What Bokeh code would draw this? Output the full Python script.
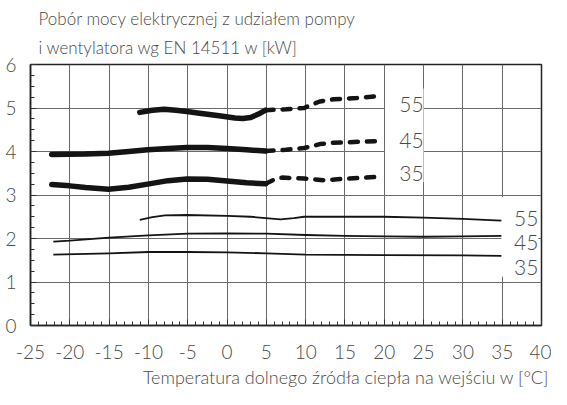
from bokeh.plotting import figure
from bokeh.models import Title, FixedTicker, Range1d
from bokeh.embed import file_html
from bokeh.resources import INLINE
from bokeh.core.properties import value

FONT = "Lato Light"
TXT = "#4a4a4a"
INK = "#141414"

# ---- texts ----
title_lines = ["Pobór mocy elektrycznej z udziałem pompy",
               "i wentylatora wg EN 14511 w [kW]"]
x_title = "Temperatura dolnego źródła ciepła na wejściu w [°C]"
x_ticks = [-25, -20, -15, -10, -5, 0, 5, 10, 15, 20, 25, 30, 35, 40]
y_ticks = [0, 1, 2, 3, 4, 5, 6]
series_labels = ["55", "45", "35"]

# ---- thick curves (upper group), solid part ----
thick55_x = [-11.1, -9.5, -8.0, -6.5, -5.1, -3.5, -1.0, 1.0, 2.0, 3.0, 4.0, 4.9]
thick55_y = [4.90, 4.95, 4.97, 4.95, 4.92, 4.88, 4.82, 4.77, 4.76, 4.78, 4.86, 4.95]
thick45_x = [-22.3, -18.0, -15.1, -12.5, -10.1, -7.5, -5.1, -2.5, 0.0, 2.5, 4.9]
thick45_y = [3.93, 3.94, 3.96, 4.00, 4.04, 4.07, 4.09, 4.09, 4.07, 4.04, 4.01]
thick35_x = [-22.3, -20.0, -18.0, -15.1, -12.5, -10.1, -7.5, -5.1, -2.5, 0.0, 2.5, 4.9]
thick35_y = [3.24, 3.21, 3.17, 3.13, 3.18, 3.25, 3.33, 3.37, 3.36, 3.32, 3.28, 3.26]

# ---- thick curves, dashed continuation ----
dash55_x = [4.9, 7.5, 9.8, 10.8, 11.8, 13.6, 16.5, 19.5]
dash55_y = [4.95, 4.97, 5.00, 5.08, 5.15, 5.20, 5.23, 5.28]
dash45_x = [4.9, 7.5, 9.8, 10.8, 11.8, 13.5, 14.8, 19.5]
dash45_y = [4.01, 4.04, 4.08, 4.12, 4.17, 4.20, 4.21, 4.24]
dash35_x = [4.9, 5.5, 6.2, 7.0, 9.8, 12.3, 14.8, 19.5]
dash35_y = [3.26, 3.31, 3.37, 3.40, 3.38, 3.34, 3.37, 3.42]

# ---- thin curves (lower group) ----
thin55_x = [-11.1, -9.5, -7.9, -5.1, 0.0, 3.0, 4.9, 6.8, 8.5, 9.8, 19.9, 25.0, 30.0, 34.9]
thin55_y = [2.43, 2.49, 2.53, 2.54, 2.52, 2.50, 2.47, 2.44, 2.47, 2.50, 2.50, 2.48, 2.45, 2.41]
thin45_x = [-22.1, -20.0, -15.0, -10.0, -5.0, 0.0, 5.0, 10.0, 15.0, 20.0, 25.0, 30.0, 34.9]
thin45_y = [1.93, 1.95, 2.02, 2.07, 2.11, 2.12, 2.11, 2.08, 2.06, 2.05, 2.04, 2.05, 2.06]
thin35_x = [-22.1, -15.0, -10.0, -5.0, 0.0, 5.0, 8.0, 10.0, 20.0, 30.0, 34.9]
thin35_y = [1.63, 1.66, 1.69, 1.69, 1.68, 1.66, 1.64, 1.63, 1.62, 1.61, 1.60]

p = figure(width=551, height=389, output_backend="svg", toolbar_location=None,
           x_range=Range1d(-25, 40), y_range=Range1d(0, 6),
           min_border_left=30, min_border_right=10,
           min_border_top=58, min_border_bottom=10)
p.background_fill_color = "white"
p.border_fill_color = "white"
p.outline_line_color = "#222222"
p.outline_line_width = 1.5

# grid
p.xgrid.ticker = FixedTicker(ticks=x_ticks)
p.ygrid.ticker = FixedTicker(ticks=y_ticks)
for g in (p.xgrid, p.ygrid):
    g.grid_line_color = "#6a6a6a"
    g.grid_line_width = 1
    g.grid_line_alpha = 1

# axes
p.xaxis.ticker = FixedTicker(ticks=x_ticks, minor_ticks=list(range(-25, 41)))
p.yaxis.ticker = FixedTicker(ticks=y_ticks, minor_ticks=[i * 0.25 for i in range(25)])
p.xaxis.major_label_overrides = {t: str(t) for t in x_ticks}
for ax in (p.xaxis, p.yaxis):
    ax.axis_line_color = "#222222"
    ax.axis_line_width = 1.5
    ax.major_tick_in = 6
    ax.major_tick_out = 0
    ax.minor_tick_in = 4
    ax.minor_tick_out = 0
    ax.major_tick_line_color = "#333333"
    ax.minor_tick_line_color = "#333333"
    ax.major_label_text_font = FONT
    ax.major_label_text_font_size = "19px"
    ax.major_label_text_color = TXT
p.xaxis.major_label_standoff = 19
p.yaxis.major_label_standoff = 14

# white boxes behind curve labels
p.quad(left=[20.1, 34.9], right=[25.0, 39.6], bottom=[3.3, 1.12], top=[5.45, 2.95],
       fill_color="white", line_color=None)

# thick solid
for xs, ys in ((thick55_x, thick55_y), (thick45_x, thick45_y), (thick35_x, thick35_y)):
    p.line(xs, ys, line_width=5.5, line_color=INK, line_cap="round", line_join="round")
# thick dashed
for xs, ys in ((dash55_x, dash55_y), (dash45_x, dash45_y), (dash35_x, dash35_y)):
    p.line(xs, ys, line_width=4.5, line_color=INK, line_cap="round", line_join="round",
           line_dash="8 9")
# thin
for xs, ys in ((thin55_x, thin55_y), (thin45_x, thin45_y), (thin35_x, thin35_y)):
    p.line(xs, ys, line_width=1.8, line_color=INK, line_join="round")

# curve labels
p.text(x=[21.9] * 3, y=[5.09, 4.25, 3.49], text=series_labels,
       text_font=value(FONT), text_font_size="21px", text_color=TXT,
       text_align="left", text_baseline="middle")
p.text(x=[36.5] * 3, y=[2.45, 1.90, 1.33], text=series_labels,
       text_font=value(FONT), text_font_size="21px", text_color=TXT,
       text_align="left", text_baseline="middle")

# two-line title above the frame
p.add_layout(Title(text="\n".join(title_lines), align="left", offset=8, standoff=12,
                   text_font=FONT, text_font_size="17px", text_color=TXT,
                   text_font_style="normal", text_line_height=1.4), "above")
# x-axis title
p.add_layout(Title(text=x_title, align="right", offset=-8, standoff=4,
                   text_font=FONT, text_font_size="18px", text_color=TXT,
                   text_font_style="normal"), "below")

open("out.html", "w").write(file_html(p, INLINE))
